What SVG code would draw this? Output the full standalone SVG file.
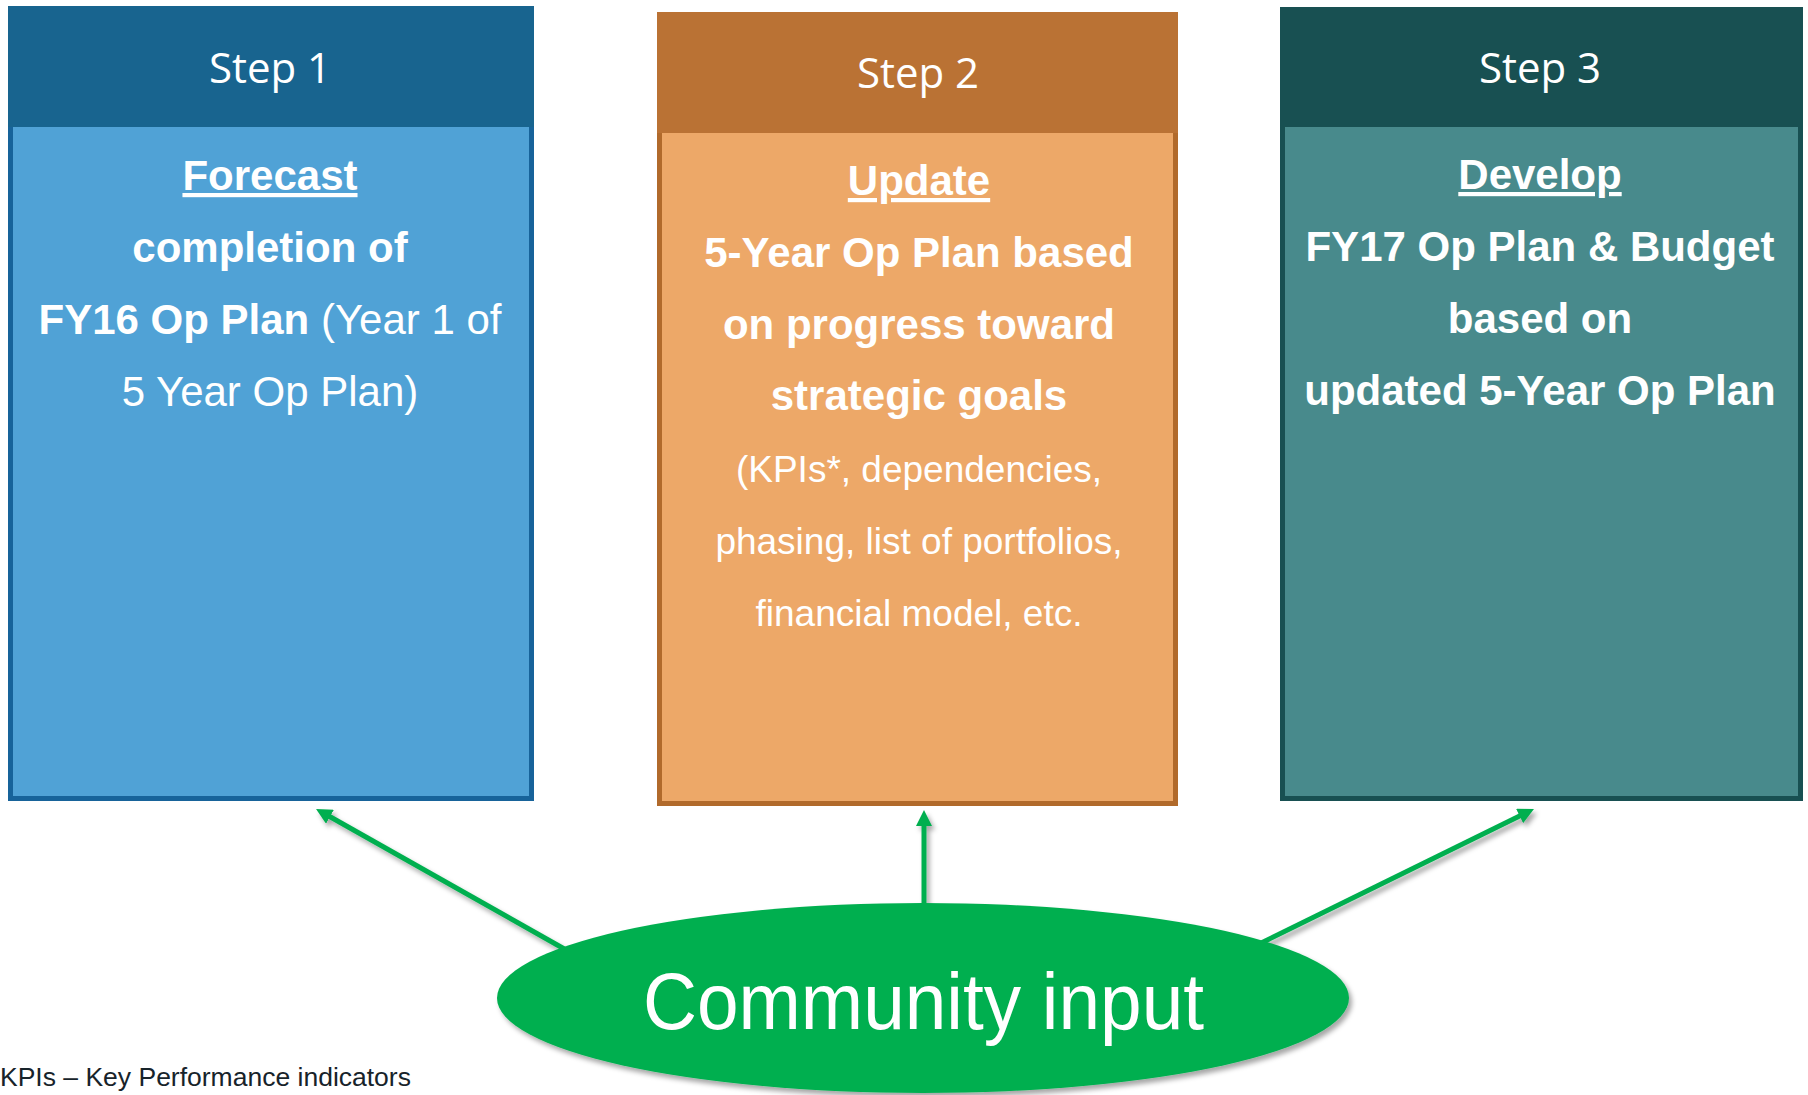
<svg xmlns="http://www.w3.org/2000/svg" width="1808" height="1095" viewBox="0 0 1808 1095">
<style>
.hdr{font-family:"Open Sans","Noto Sans",sans-serif;font-size:42px;fill:#fff;text-anchor:middle}
.b{font-family:"Liberation Sans",Arial,sans-serif;font-size:42px;font-weight:bold;fill:#fff;text-anchor:middle}
.r{font-family:"Liberation Sans",Arial,sans-serif;font-size:42px;font-weight:normal;fill:#fff}
.s{font-family:"Liberation Sans",Arial,sans-serif;font-size:37px;fill:#fff;text-anchor:middle}
.u{text-decoration:underline}
.conn{stroke:#00AF50;stroke-width:5;fill:none;marker-end:url(#ah)}
</style>
<defs>
<marker id="ah" markerUnits="userSpaceOnUse" markerWidth="16" markerHeight="16" refX="4" refY="8" orient="auto" viewBox="0 0 16 16">
<path d="M0,0 L16,8 L0,16 z" fill="#00AF50"/>
</marker>
<filter id="sh" x="-10%" y="-20%" width="130%" height="150%">
<feDropShadow dx="3" dy="4" stdDeviation="2.5" flood-color="#000" flood-opacity="0.35"/>
</filter>
</defs>
<rect width="1808" height="1095" fill="#fff"/>

<g id="step1">
<rect x="10.5" y="20" width="521" height="778.5" fill="#50A2D6" stroke="#17639A" stroke-width="5"/>
<rect x="8" y="6" width="526" height="121" fill="#18648F"/>
<text class="hdr" x="270" y="83">Step 1</text>
<text class="b u" x="270" y="190">Forecast</text>
<text class="b" x="270" y="262">completion of</text>
<text class="b" x="270" y="334">FY16 Op Plan <tspan class="r">(Year 1 of</tspan></text>
<text class="b" x="270" y="406" style="font-weight:normal">5 Year Op Plan)</text>
</g>

<g id="step2">
<rect x="659.5" y="25" width="516" height="778.5" fill="#EDA868" stroke="#B16A2B" stroke-width="5"/>
<rect x="657" y="12" width="521" height="121" fill="#BA7234"/>
<text class="hdr" x="918" y="88">Step 2</text>
<text class="b u" x="919" y="195">Update</text>
<text class="b" x="919" y="267">5-Year Op Plan based</text>
<text class="b" x="919" y="339">on progress toward</text>
<text class="b" x="919" y="410">strategic goals</text>
<text class="s" x="919" y="482">(KPIs*, dependencies,</text>
<text class="s" x="919" y="554">phasing, list of portfolios,</text>
<text class="s" x="919" y="626">financial model, etc.</text>
</g>

<g id="step3">
<rect x="1282.5" y="20" width="518" height="778.5" fill="#488A8C" stroke="#185052" stroke-width="5"/>
<rect x="1280" y="7" width="523" height="120" fill="#185052"/>
<text class="hdr" x="1540" y="83">Step 3</text>
<text class="b u" x="1540" y="189">Develop</text>
<text class="b" x="1540" y="261">FY17 Op Plan &amp; Budget</text>
<text class="b" x="1540" y="333">based on</text>
<text class="b" x="1540" y="405">updated 5-Year Op Plan</text>
</g>

<g id="connectors" filter="url(#sh)">
<line class="conn" x1="575" y1="955" x2="326.5" y2="814.8"/>
<line class="conn" x1="924" y1="915" x2="924" y2="822"/>
<line class="conn" x1="1253" y1="947" x2="1523.2" y2="814.2"/>
</g>

<g id="community">
<ellipse cx="923" cy="998" rx="426" ry="95" fill="#00AF50" filter="url(#sh)"/>
<text x="923.5" y="1029" text-anchor="middle" font-family="Liberation Sans, Arial, sans-serif" font-size="80" fill="#fff" textLength="561" lengthAdjust="spacingAndGlyphs">Community input</text>
</g>

<g id="footnote">
<text x="0" y="1086" font-family="Liberation Sans, Arial, sans-serif" font-size="26.5" fill="#17232A">KPIs – Key Performance indicators</text>
</g>
</svg>
